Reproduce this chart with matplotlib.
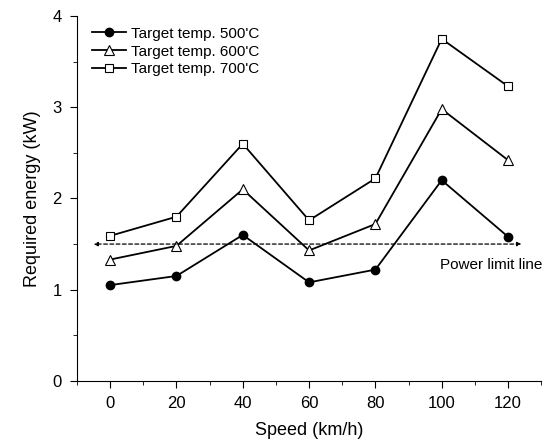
import matplotlib
matplotlib.use('Agg')
import matplotlib.pyplot as plt
from matplotlib.ticker import MultipleLocator

plt.rcParams['font.family'] = ['Liberation Sans', 'DejaVu Sans']

speed = [0, 20, 40, 60, 80, 100, 120]
energy_500 = [1.05, 1.15, 1.60, 1.08, 1.22, 2.20, 1.58]
energy_600 = [1.33, 1.48, 2.10, 1.43, 1.72, 2.98, 2.42]
energy_700 = [1.59, 1.80, 2.60, 1.76, 2.22, 3.75, 3.23]
power_limit = 1.5
limit_span = [-5, 124]

fig = plt.figure(figsize=(5.5, 4.47), dpi=100)
ax = fig.add_axes([0.14, 0.148, 0.844, 0.816])

ax.plot(speed, energy_500, color='black', lw=1.3, marker='o', ms=6,
        mfc='black', label="Target temp. 500'C")
ax.plot(speed, energy_600, color='black', lw=1.3, marker='^', ms=7,
        mfc='white', mew=0.8, label="Target temp. 600'C")
ax.plot(speed, energy_700, color='black', lw=1.3, marker='s', ms=6,
        mfc='white', mew=0.8, label="Target temp. 700'C")

ax.annotate('', xy=(limit_span[0], power_limit), xytext=(limit_span[1], power_limit),
            arrowprops=dict(arrowstyle='<|-|>', ls=(0, (3, 2)), lw=0.9,
                            color='black', mutation_scale=6, shrinkA=0, shrinkB=0))
ax.text(99.5, 1.27, 'Power limit line', fontsize=11, va='center', ha='left')

ax.set_xlim(-10, 130)
ax.set_ylim(0, 4)
ax.set_xticks(speed)
ax.set_yticks([0, 1, 2, 3, 4])
ax.xaxis.set_minor_locator(MultipleLocator(10))
ax.yaxis.set_minor_locator(MultipleLocator(0.5))
ax.tick_params(which='major', direction='out', length=5, labelsize=12, pad=6)
ax.tick_params(which='minor', direction='out', length=3)
ax.spines['top'].set_visible(False)
ax.spines['right'].set_visible(False)
ax.set_xlabel('Speed (km/h)', fontsize=13, labelpad=8)
ax.set_ylabel('Required energy (kW)', fontsize=13, labelpad=8)

ax.legend(loc='upper left', bbox_to_anchor=(0.01, 1.0), frameon=False,
          fontsize=11, handlelength=2.2, handletextpad=0.3,
          labelspacing=0.25, borderaxespad=0.3)

fig.savefig('out.png', dpi=100)
